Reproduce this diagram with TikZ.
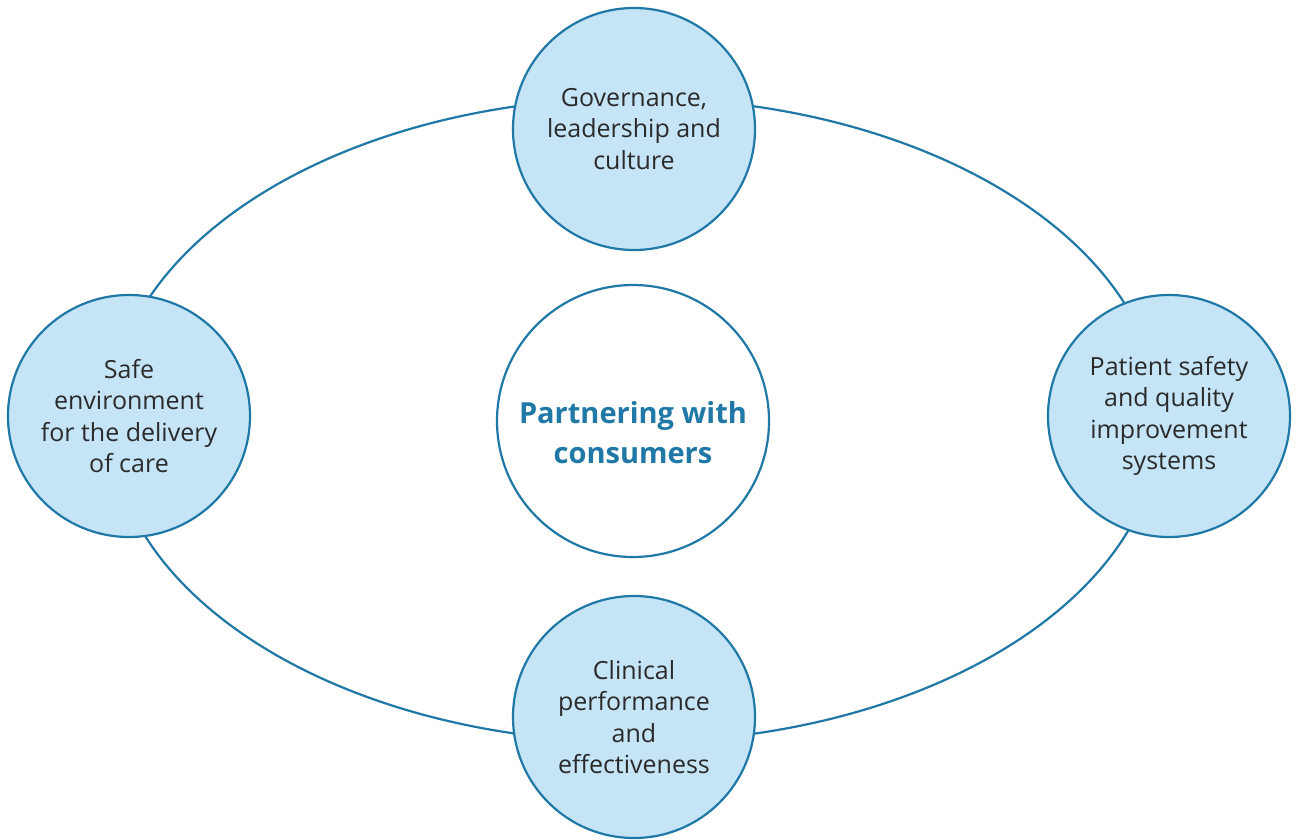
\documentclass[tikz,border=0pt]{standalone}
\usepackage{fontspec}
\setmainfont{Open Sans}
\usepackage{tikz}

\definecolor{traitbleu}{HTML}{1F78A6}
\definecolor{fondbleu}{HTML}{C5E5F7}
\definecolor{texte}{HTML}{2A2A2A}

\begin{document}
\begin{tikzpicture}[x=1pt, y=-1pt]
\tikzset{pilier/.style={draw=traitbleu, line width=2.2pt, fill=fondbleu, circle,
    minimum size=242pt, inner sep=0pt, align=center, text=texte,
    font=\fontsize{25}{31.5}\selectfont}}
\tikzset{centre/.style={draw=traitbleu, line width=2.2pt, fill=white, circle,
    minimum size=272pt, inner sep=0pt}}
\tikzset{centretexte/.style={align=center, text=traitbleu, inner sep=0pt,
    font=\fontsize{29}{40}\selectfont\bfseries}}
\useasboundingbox (0, 0) rectangle (1298, 840);
\coordinate (O) at (635, 420);
\draw[traitbleu, line width=2.2pt] (O) ellipse [x radius=525pt, y radius=322pt];
\node[pilier] (P1) at (634, 129) {Governance,\\leadership and\\culture};
\node[pilier] (P2) at (1169, 416) {Patient safety\\and quality\\improvement\\systems};
\node[pilier] (P3) at (634, 717) {Clinical\\performance\\and\\effectiveness};
\node[pilier] (P4) at (129, 416) {Safe\\environment\\for the delivery\\of care};
\node[centre, label={[centretexte, yshift=-12pt]center:{Partnering with\\consumers}}] (C) at (633, 421) {};
\end{tikzpicture}
\end{document}
